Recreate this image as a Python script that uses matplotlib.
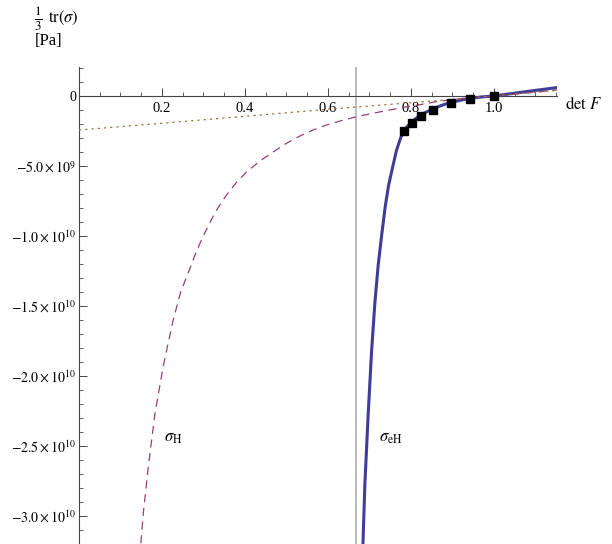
import matplotlib
matplotlib.use('Agg')
import matplotlib.pyplot as plt
from matplotlib.ticker import FixedLocator, MultipleLocator, FixedFormatter

plt.rcParams['font.family'] = 'serif'
plt.rcParams['font.serif'] = ['Liberation Serif', 'DejaVu Serif']
plt.rcParams['mathtext.fontset'] = 'stix'

# sigma_eH (solid blue), values in 1e9 Pa
eh_J = [0.684, 0.689, 0.697, 0.705, 0.713, 0.721, 0.730, 0.738, 0.746, 0.755,
        0.765, 0.775, 0.783, 0.792, 0.802, 0.813, 0.824, 0.84, 0.854, 0.875,
        0.896, 0.92, 0.943, 0.97, 1.0, 1.05, 1.1, 1.152]
eh_s = [-32.3, -27.7, -22.7, -18.3, -14.8, -12.1, -9.8, -7.9, -6.4, -5.2,
        -3.9, -3.0, -2.5, -2.15, -1.85, -1.58, -1.35, -1.1, -0.9, -0.66,
        -0.46, -0.3, -0.17, -0.07, 0.0, 0.2, 0.4, 0.6]

# sigma_H (dashed)
h_J = [0.149, 0.155, 0.167, 0.183, 0.203, 0.227, 0.245, 0.2675, 0.2795, 0.2916,
       0.3036, 0.3197, 0.3357, 0.356, 0.380, 0.404, 0.436, 0.468, 0.50, 0.533,
       0.565, 0.597, 0.63, 0.669, 0.709, 0.749, 0.785, 0.822, 0.862, 0.93,
       1.0, 1.08, 1.152]
h_s = [-31.95, -29.8, -26.5, -22.7, -19.3, -16.0, -14.0, -12.31, -11.36, -10.52,
       -9.75, -8.8, -7.95, -7.05, -6.15, -5.42, -4.65, -4.0, -3.38, -2.85,
       -2.42, -2.07, -1.78, -1.48, -1.23, -1.0, -0.8, -0.62, -0.4, -0.15,
       0.0, 0.22, 0.43]

# linear (dotted)
lin_J = [0.0, 0.2, 0.4, 0.6, 0.8, 1.0, 1.152]
lin_s = [-2.43, -1.95, -1.45, -0.95, -0.48, 0.0, 0.40]

# measured points
pts_J = [0.783, 0.802, 0.824, 0.854, 0.896, 0.943, 1.0]
pts_s = [-2.48, -1.95, -1.45, -1.0, -0.52, -0.21, 0.0]

J_limit = 2.0 / 3.0

x_major = [0.2, 0.4, 0.6, 0.8, 1.0]
x_labels = ['0.2', '0.4', '0.6', '0.8', '1.0']
y_major = [0, -5e9, -1e10, -1.5e10, -2e10, -2.5e10, -3e10]
y_labels = ['0', r'$-5.0\times10^{9}$', r'$-1.0\times10^{10}$', r'$-1.5\times10^{10}$',
            r'$-2.0\times10^{10}$', r'$-2.5\times10^{10}$', r'$-3.0\times10^{10}$']

blue = '#3f3d99'
purple = '#993d74'
gold = '#99743d'

fig = plt.figure(figsize=(6.12, 5.44), dpi=100)
ax = fig.add_axes([79/612, 0, 478/612, 477/544])

ax.axvline(J_limit, color='#b0b0b0', lw=1.2, zorder=1)
ax.plot(eh_J, [v*1e9 for v in eh_s], color=blue, lw=2.2, zorder=3, solid_capstyle='butt',
        solid_joinstyle='round')
ax.plot(h_J, [v*1e9 for v in h_s], color=purple, lw=0.9, dashes=(6.5, 4.5), zorder=4)
ax.plot(lin_J, [v*1e9 for v in lin_s], color=gold, lw=0.9, dashes=(1.8, 3.2), zorder=4)
ax.plot(pts_J, [v*1e9 for v in pts_s], 's', color='black', ms=6, zorder=5)

ax.set_xlim(0, 1.152)
ax.set_ylim(-3.2e10, 2.07e9)

for s in ['top', 'right']:
    ax.spines[s].set_visible(False)
ax.spines['bottom'].set_position(('data', 0))
for s in ['left', 'bottom']:
    ax.spines[s].set_color('#444444')
    ax.spines[s].set_linewidth(0.8)

ax.xaxis.set_major_locator(FixedLocator(x_major))
ax.xaxis.set_major_formatter(FixedFormatter(x_labels))
ax.xaxis.set_minor_locator(MultipleLocator(0.05))
ax.yaxis.set_major_locator(FixedLocator(y_major))
ax.yaxis.set_major_formatter(FixedFormatter(y_labels))
ax.yaxis.set_minor_locator(MultipleLocator(1e9))

ax.tick_params(axis='both', which='both', direction='in', color='#444444')
ax.tick_params(axis='both', which='major', length=5.5, width=0.7)
ax.tick_params(axis='both', which='minor', length=3.0, width=0.6)
ax.tick_params(axis='x', which='major', pad=4, labelsize=10.5)
ax.tick_params(axis='y', which='major', pad=2, labelsize=10)

ax.text(1.171, -0.64e9, r'$\det\,F$', fontsize=12, ha='left', va='center', clip_on=False)
ax.text(0.205, -24.4e9, r'$\sigma_{\mathrm{H}}$', fontsize=12, ha='left', va='center')
ax.text(0.724, -24.4e9, r'$\sigma_{\mathrm{eH}}$', fontsize=12, ha='left', va='center')

# axis label: 1/3 tr(sigma) [Pa]
fig.text(34/612, 1 - 19/544, r'$\frac{1}{3}$', fontsize=13.5, ha='left', va='center')
fig.text(48/612, 1 - 18/544, r'$\mathrm{tr}(\sigma)$', fontsize=12, ha='left', va='center')
fig.text(35/612, 1 - 33/544, '[Pa]', fontsize=12, ha='left', va='top')

fig.savefig('out.png', dpi=100, facecolor='white')
